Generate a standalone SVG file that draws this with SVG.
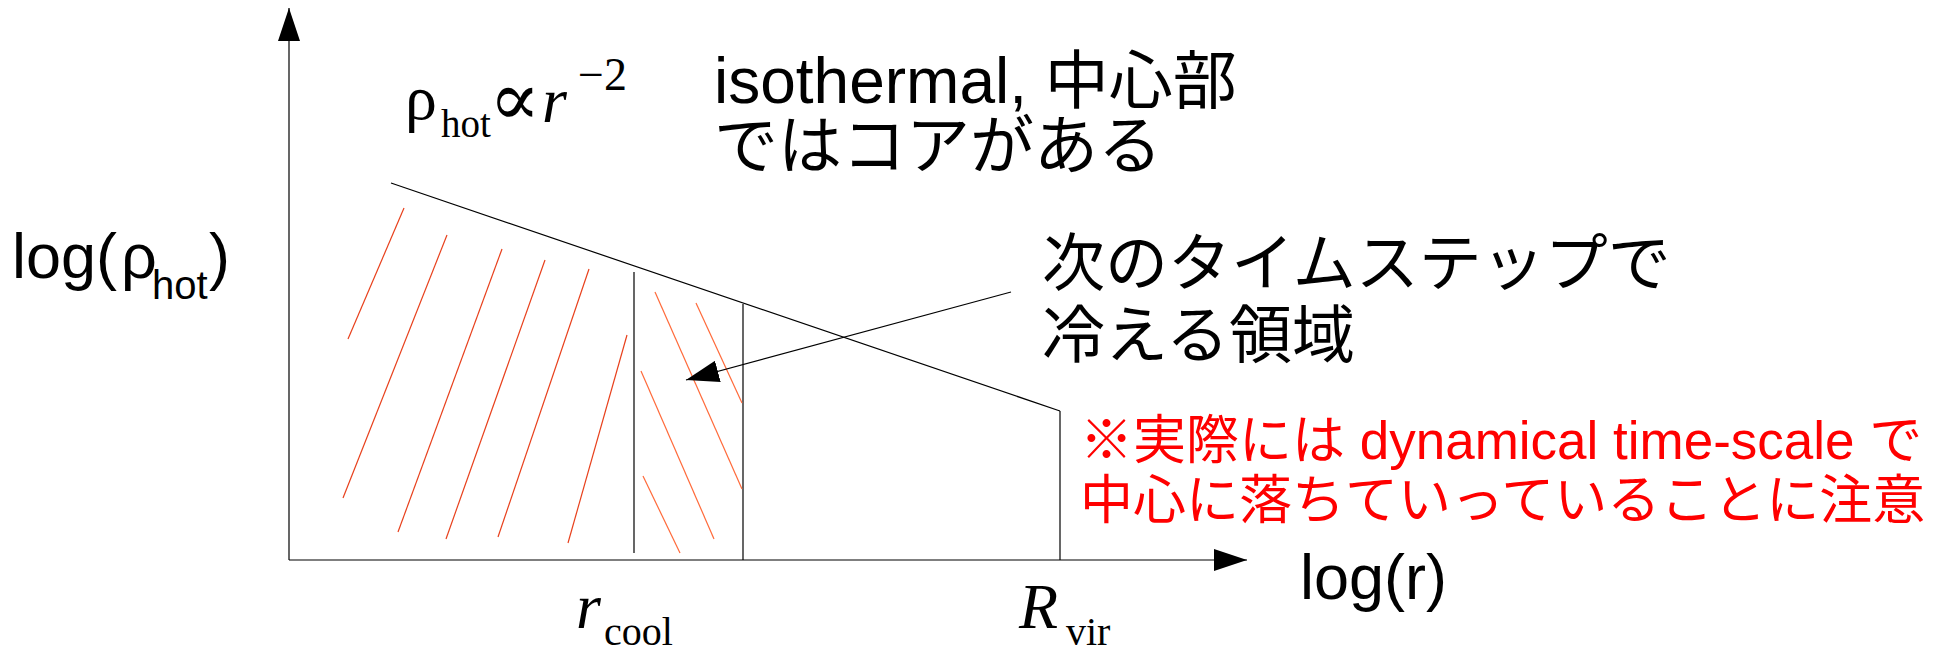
<svg xmlns="http://www.w3.org/2000/svg" width="1933" height="651" viewBox="0 0 1933 651">
<style>
.ln{stroke:#000;stroke-width:1.2;fill:none}
.hl{stroke:#e8401c;stroke-width:1.2}
.hr{stroke:#ff6a3a;stroke-width:1.2}
.sans{font-family:"Liberation Sans","Noto Sans CJK JP",sans-serif;fill:#000}
.cjk{font-family:"Liberation Sans","Noto Sans CJK JP",sans-serif}
.serif{font-family:"Liberation Serif","DejaVu Serif",serif;fill:#000}
.red{fill:#ff0000}
</style>
<defs>
<marker id="ah" markerUnits="userSpaceOnUse" markerWidth="34" markerHeight="22" refX="33" refY="11" orient="auto" viewBox="0 0 34 22">
<path d="M0,0 L33,11 L0,22 z" fill="#000"/>
</marker>
</defs>
<rect width="1933" height="651" fill="#fff"/>
<g id="axes">
<line class="ln" x1="289" y1="560" x2="289" y2="8" marker-end="url(#ah)"/>
<line class="ln" x1="289" y1="560" x2="1247" y2="560" marker-end="url(#ah)"/>
</g>
<g id="profile">
<line class="ln" x1="391" y1="183" x2="1060" y2="411"/>
<line class="ln" x1="634" y1="272" x2="634" y2="553"/>
<line class="ln" x1="743" y1="304" x2="743" y2="560"/>
<line class="ln" x1="1060" y1="411" x2="1060" y2="560"/>
</g>
<g id="hatch-inner">
<line class="hl" x1="404" y1="208" x2="348" y2="339"/>
<line class="hl" x1="447" y1="235" x2="343" y2="498"/>
<line class="hl" x1="502" y1="249" x2="398" y2="532"/>
<line class="hl" x1="545" y1="260" x2="446" y2="539"/>
<line class="hl" x1="589" y1="269" x2="498" y2="537"/>
<line class="hl" x1="627" y1="335" x2="568" y2="543"/>
</g>
<g id="hatch-shell">
<line class="hr" x1="655" y1="292" x2="742" y2="489"/>
<line class="hr" x1="696" y1="303" x2="742" y2="403"/>
<line class="hr" x1="641" y1="371" x2="714" y2="539"/>
<line class="hr" x1="643" y1="476" x2="680" y2="553"/>
</g>
<g id="connectors">
<line class="ln" x1="1011" y1="292" x2="686" y2="380" marker-end="url(#ah)"/>
</g>
<g id="formula">
<text class="serif"><tspan x="405" y="119" font-size="64">ρ</tspan><tspan x="441" y="137" font-size="39">hot</tspan><tspan x="489" y="125" font-size="76" font-family="DejaVu Serif">∝</tspan><tspan x="542" y="122" font-style="italic" font-size="64">r</tspan><tspan x="578" y="90" font-size="46">−2</tspan></text>
</g>
<g id="label-ylabel">
<text class="sans" font-size="63"><tspan x="12" y="278">log(</tspan><tspan x="121" y="278">ρ</tspan><tspan x="152" y="299" font-size="40">hot</tspan><tspan x="209" y="278">)</tspan></text>
</g>
<g id="label-xlabel">
<text class="sans" font-size="63" x="1300" y="599">log(r)</text>
</g>
<g id="label-isothermal">
<text class="sans" font-size="64"><tspan x="714" y="103">isothermal, 中心部</tspan><tspan x="714" y="168">ではコアがある</tspan></text>
</g>
<g id="label-next">
<text class="sans" font-size="63"><tspan x="1042" y="285">次のタイムステップで</tspan><tspan x="1042" y="357">冷える領域</tspan></text>
</g>
<g id="label-note">
<text class="cjk red" font-size="53"><tspan x="1080" y="459">※実際には dynamical time-scale で</tspan><tspan x="1080" y="519">中心に落ちていっていることに注意</tspan></text>
</g>
<g id="label-rcool">
<text class="serif"><tspan x="576" y="628" font-size="64" font-style="italic">r</tspan><tspan x="604" y="645" font-size="40">cool</tspan></text>
</g>
<g id="label-rvir">
<text class="serif"><tspan x="1019" y="628" font-size="64" font-style="italic">R</tspan><tspan x="1066" y="645" font-size="40">vir</tspan></text>
</g>
</svg>
